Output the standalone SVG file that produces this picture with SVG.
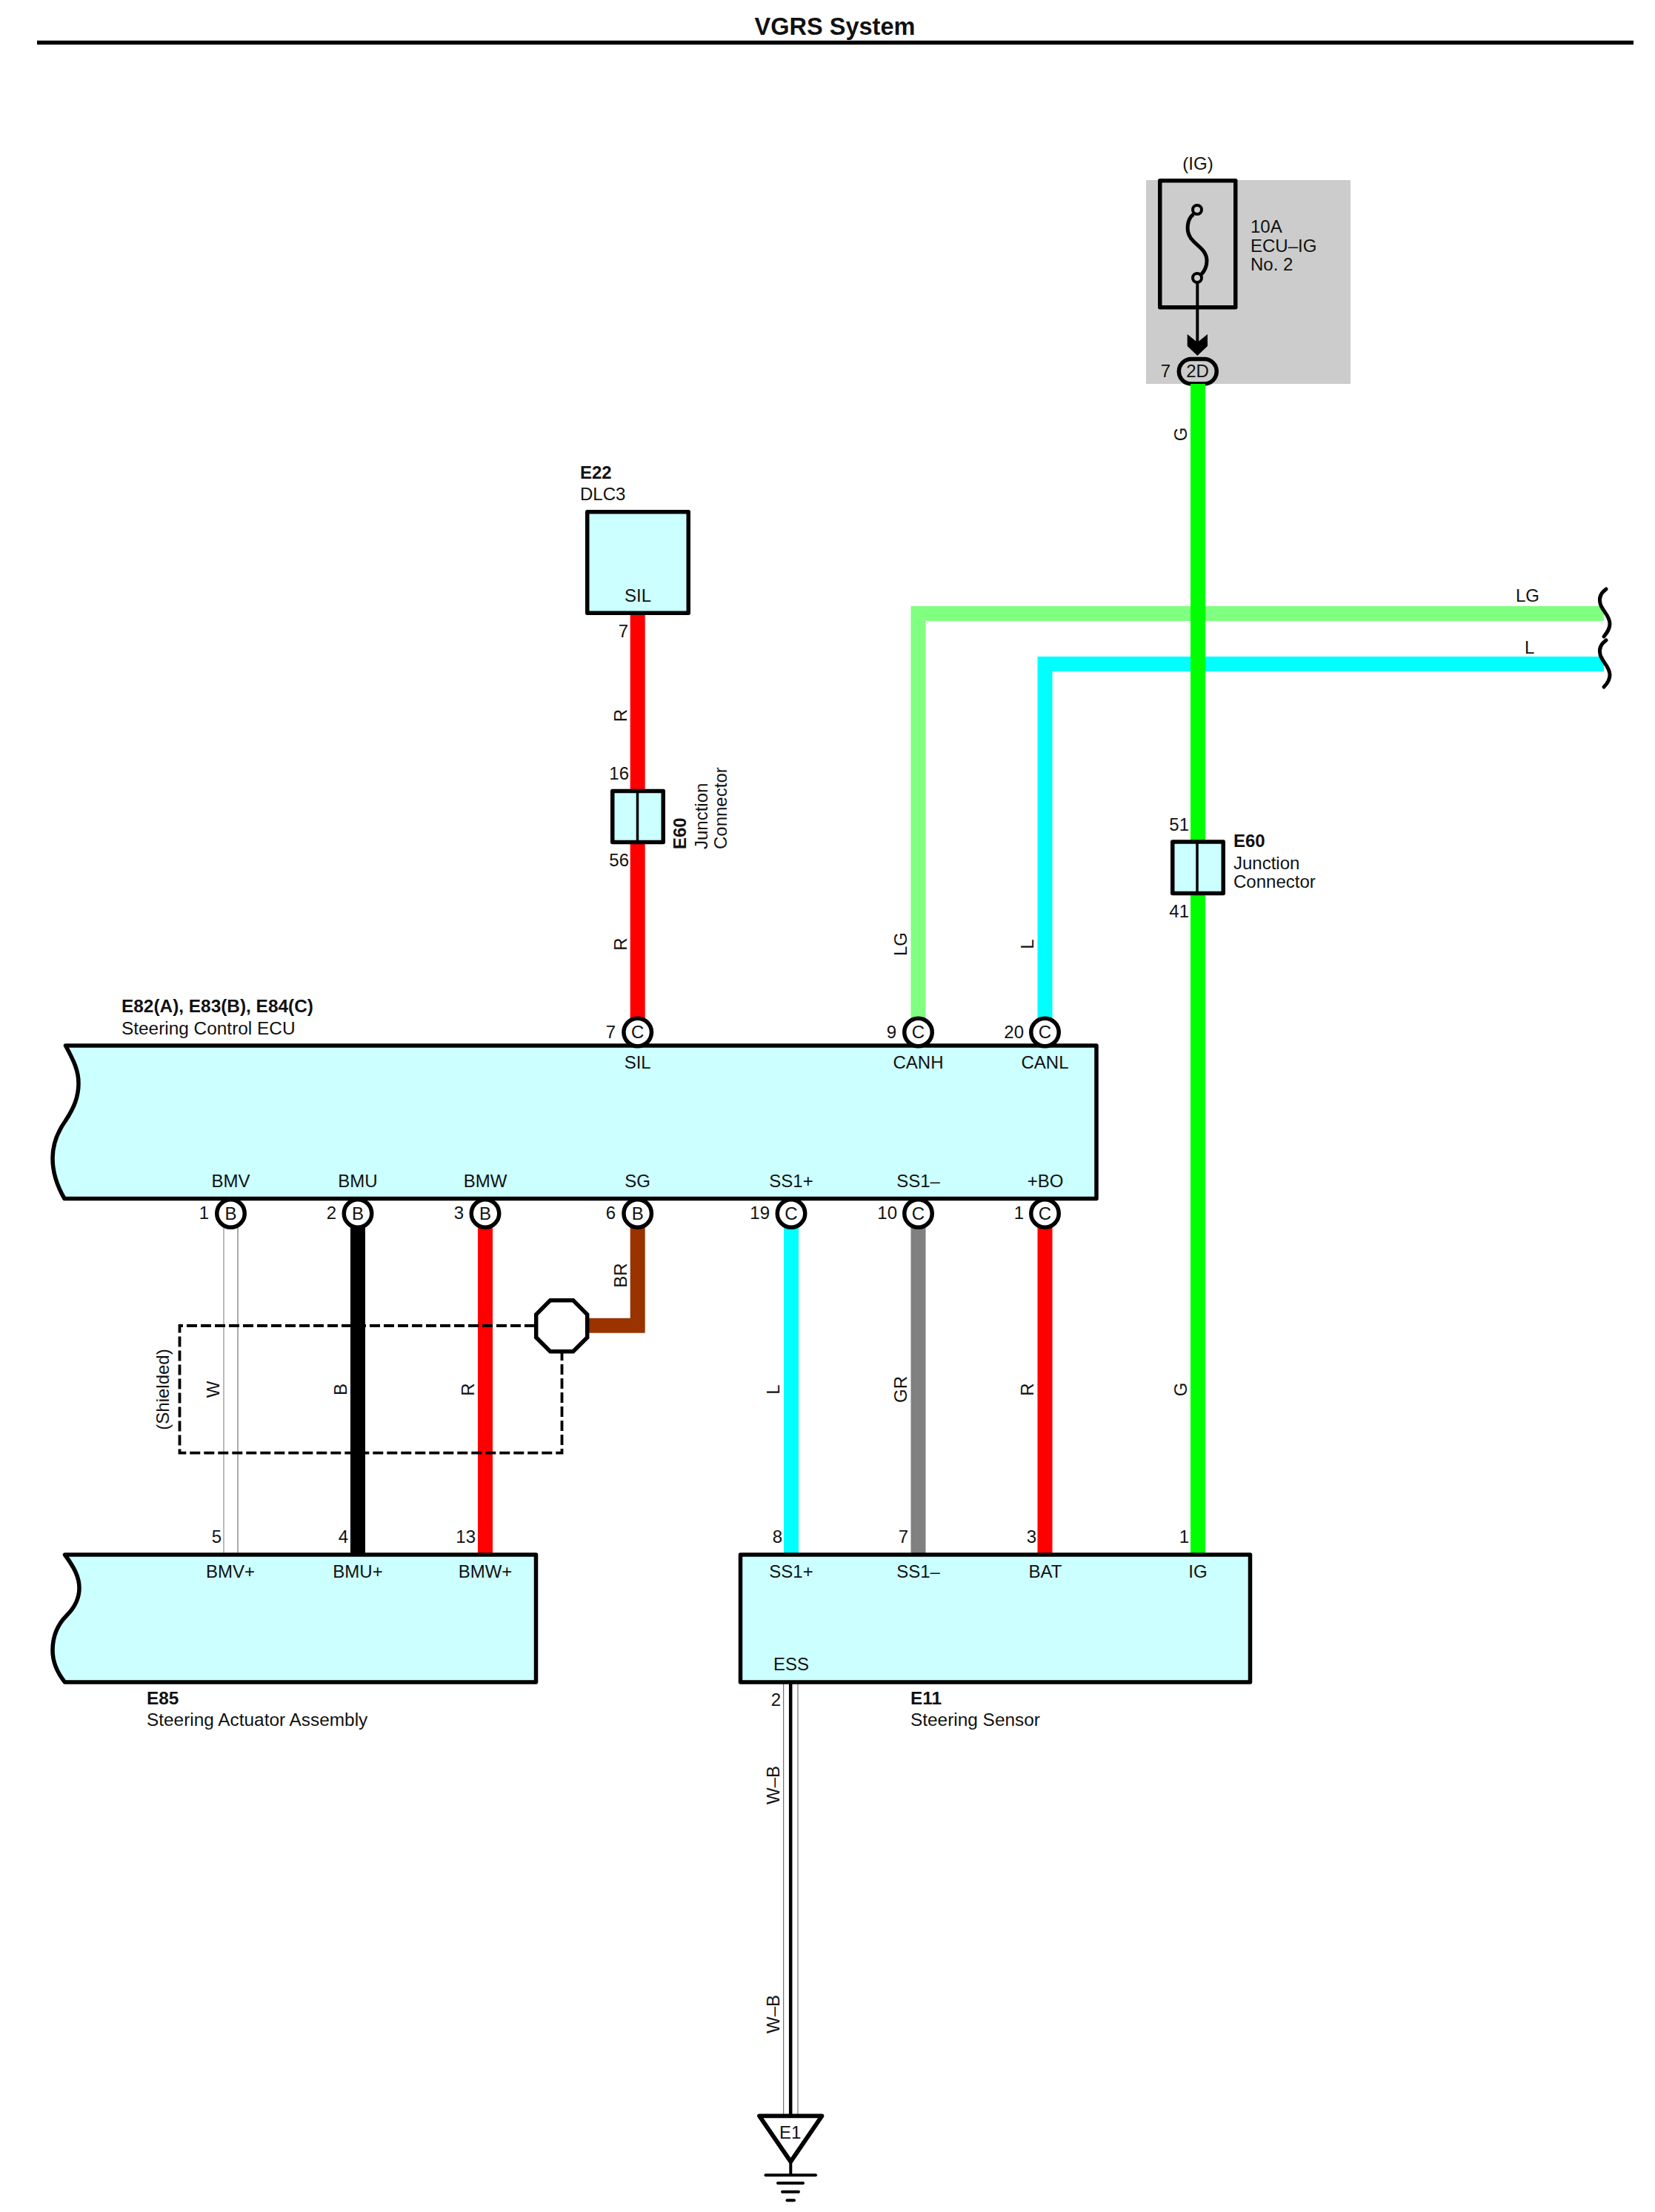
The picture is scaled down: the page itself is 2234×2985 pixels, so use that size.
<svg xmlns="http://www.w3.org/2000/svg" width="2234" height="2985" viewBox="0 0 2234 2985">
<style>
text{font-family:"Liberation Sans",Arial,sans-serif;font-size:24px;fill:#111}
.b{font-weight:bold}
.m{text-anchor:middle}
.e{text-anchor:end}
.n{font-size:24.4px}
.w{fill:none;stroke-width:20;stroke-linejoin:miter;stroke-linecap:butt}
.box{fill:#CCFFFF;stroke:#000;stroke-width:5.500;stroke-linejoin:round}
.pin{fill:#fff;stroke:#000;stroke-width:5.500}
.ln{fill:none;stroke:#000}
.g{stroke:#000;stroke-width:4;stroke-linecap:round}
</style>
<rect width="2234" height="2985" fill="#fff"/>
<g id="title">
<text x="1127" y="47" class="b m" style="font-size:32.500px">VGRS System</text>
<line x1="50" y1="57.500" x2="2205" y2="57.500" stroke="#000" stroke-width="5.500"/>
</g>
<g id="fuse-ig">
<rect x="1547" y="243" width="276" height="275" fill="#ccc"/>
<text x="1617" y="229" class="m">(IG)</text>
<rect x="1565.750" y="243.750" width="102" height="171" fill="none" stroke="#000" stroke-width="5.500" stroke-linejoin="round"/>
<path class="ln" stroke-width="5" d="M1611 289C1601 297 1602 312 1606 319C1611 330 1629 335 1629 352C1629 360 1626 366 1621 371"/>
<line x1="1616.300" y1="381" x2="1616.300" y2="470" stroke="#000" stroke-width="4"/>
<circle cx="1616" cy="283" r="6" fill="#ccc" stroke="#000" stroke-width="4"/>
<circle cx="1616" cy="375" r="6" fill="#ccc" stroke="#000" stroke-width="4"/>
<polygon points="1602.700,451 1616.300,462 1630,451 1630,467 1616.300,480 1602.700,467" fill="#000"/>
<text x="1688" y="314">10A</text>
<text x="1688" y="339.500">ECU–IG</text>
<text x="1688" y="365">No. 2</text>
<rect x="1591.300" y="484.500" width="51" height="33.500" rx="16.750" ry="16.750" fill="#ccc" stroke="#000" stroke-width="5.500"/>
<text x="1616.500" y="508.500" class="m">2D</text>
<text x="1580" y="508.500" class="e">7</text>
</g>
<g id="connectors">
<path class="w" stroke="#FF0000" d="M860.700 830V1375"/>
<path class="w" stroke="#80FF80" d="M1239.500 1375V828H2165"/>
<path class="w" stroke="#00FFFF" d="M1410.500 1375V896H2165"/>
<path class="w" stroke="#00FF00" d="M1617 518V2098"/>
<path class="w" stroke="#000000" d="M483 1650V2098"/>
<path class="w" stroke="#FF0000" d="M655 1650V2098"/>
<path class="w" stroke="#993300" d="M860.700 1650V1788.700H790"/>
<path class="w" stroke="#00FFFF" d="M1068 1650V2098"/>
<path class="w" stroke="#808080" d="M1239.500 1650V2098"/>
<path class="w" stroke="#FF0000" d="M1410.500 1650V2098"/>
<line x1="302" y1="1654" x2="302" y2="2098" stroke="#777" stroke-width="1"/>
<line x1="321" y1="1654" x2="321" y2="2098" stroke="#555" stroke-width="1"/>
<line x1="1057.700" y1="2270" x2="1057.700" y2="2855" stroke="#555" stroke-width="1"/>
<line x1="1077" y1="2270" x2="1077" y2="2855" stroke="#555" stroke-width="1"/>
<line x1="1067.200" y1="2270" x2="1067.200" y2="2855" stroke="#000" stroke-width="4.500"/>
<path class="ln" stroke-width="5" stroke-linecap="round" d="M2168 795C2161 800 2158 806 2160 814C2162 824 2173 830 2173 842C2173 849 2169 854 2165 859"/>
<path class="ln" stroke-width="5" stroke-linecap="round" d="M2168 864C2161 869 2158 875 2160 883C2162 893 2173 899 2173 911C2173 918 2169 923 2165 927"/>
<text x="2078" y="812" class="e">LG</text>
<text x="2058" y="882">L</text>
<g id="wire-labels">
<text class="m" transform="translate(846 965.500) rotate(-90)">R</text>
<text class="m" transform="translate(846 1274) rotate(-90)">R</text>
<text class="m" transform="translate(1224 1274) rotate(-90)">LG</text>
<text class="m" transform="translate(1395 1274) rotate(-90)">L</text>
<text class="m" transform="translate(1602 586) rotate(-90)">G</text>
<text class="m" transform="translate(846 1721) rotate(-90)">BR</text>
<text class="m" transform="translate(296 1875) rotate(-90)">W</text>
<text class="m" transform="translate(468 1875) rotate(-90)">B</text>
<text class="m" transform="translate(640 1875) rotate(-90)">R</text>
<text class="m" transform="translate(1052 1875) rotate(-90)">L</text>
<text class="m" transform="translate(1224 1875) rotate(-90)">GR</text>
<text class="m" transform="translate(1395 1875) rotate(-90)">R</text>
<text class="m" transform="translate(1602 1875) rotate(-90)">G</text>
<text class="m" transform="translate(1052 2409) rotate(-90)">W–B</text>
<text class="m" transform="translate(1052 2718) rotate(-90)">W–B</text>
</g>
</g>
<g id="shield">
<path fill="none" stroke="#000" stroke-width="3.800" stroke-dasharray="14 5" d="M722 1789H242.500V1960.700H758.500V1826"/>
<polygon points="742.700,1754.800 773.700,1754.800 792.700,1773.800 792.700,1804.800 773.700,1823.800 742.700,1823.800 723.700,1804.800 723.700,1773.800" fill="#fff" stroke="#000" stroke-width="5.500"/>
<text class="m" transform="translate(228 1875) rotate(-90)">(Shielded)</text>
</g>
<g id="E22">
<text x="783" y="646" class="b">E22</text>
<text x="783" y="675">DLC3</text>
<rect class="box" x="792.750" y="690.750" width="136.500" height="136.500"/>
<text x="861" y="812" class="m">SIL</text>
<text x="848" y="860" class="e">7</text>
</g>
<g id="E60-a">
<rect class="box" x="826.750" y="1067.500" width="68.500" height="69"/>
<line x1="860.500" y1="1067" x2="860.500" y2="1137" stroke="#000" stroke-width="3.500"/>
<text x="849" y="1052" class="e">16</text>
<text x="849" y="1169" class="e">56</text>
<text class="b" transform="translate(926 1146) rotate(-90)">E60</text>
<text transform="translate(955 1146) rotate(-90)">Junction</text>
<text transform="translate(981 1146) rotate(-90)">Connector</text>
</g>
<g id="E60-b">
<rect class="box" x="1582.750" y="1136" width="68.500" height="69.500"/>
<line x1="1616" y1="1136" x2="1616" y2="1206" stroke="#000" stroke-width="3.500"/>
<text x="1605" y="1121" class="e">51</text>
<text x="1605" y="1238" class="e">41</text>
<text x="1665" y="1143" class="b">E60</text>
<text x="1665" y="1173">Junction</text>
<text x="1665" y="1197.500">Connector</text>
</g>
<g id="ECU">
<text x="164" y="1366" class="b n">E82(A), E83(B), E84(C)</text>
<text x="164" y="1396" class="n">Steering Control ECU</text>
<path class="box" d="M88.500 1411H1480V1617.500H87C78 1602 71 1585 71 1563C71 1545 76 1530 88 1513C100 1495 106 1480 106 1462C106 1445 100 1432 88.500 1411Z"/>
<text x="860.700" y="1441.500" class="m">SIL</text>
<text x="1239.500" y="1441.500" class="m">CANH</text>
<text x="1410.500" y="1441.500" class="m">CANL</text>
<text x="311.500" y="1602" class="m">BMV</text>
<text x="483" y="1602" class="m">BMU</text>
<text x="655" y="1602" class="m">BMW</text>
<text x="860.700" y="1602" class="m">SG</text>
<text x="1068" y="1602" class="m">SS1+</text>
<text x="1239.500" y="1602" class="m">SS1–</text>
<text x="1411" y="1602" class="m">+BO</text>
<g id="ecu-pins">
<circle class="pin" cx="860.700" cy="1393" r="18.750"/><text x="860.700" y="1401" class="m">C</text><text x="831" y="1401" class="e">7</text>
<circle class="pin" cx="1239.500" cy="1393" r="18.750"/><text x="1239.500" y="1401" class="m">C</text><text x="1210" y="1401" class="e">9</text>
<circle class="pin" cx="1410.500" cy="1393" r="18.750"/><text x="1410.500" y="1401" class="m">C</text><text x="1382" y="1401" class="e">20</text>
<circle class="pin" cx="311.500" cy="1637.500" r="18.750"/><text x="311.500" y="1645.500" class="m">B</text><text x="282" y="1645" class="e">1</text>
<circle class="pin" cx="483" cy="1637.500" r="18.750"/><text x="483" y="1645.500" class="m">B</text><text x="454" y="1645" class="e">2</text>
<circle class="pin" cx="655" cy="1637.500" r="18.750"/><text x="655" y="1645.500" class="m">B</text><text x="626" y="1645" class="e">3</text>
<circle class="pin" cx="860.700" cy="1637.500" r="18.750"/><text x="860.700" y="1645.500" class="m">B</text><text x="831" y="1645" class="e">6</text>
<circle class="pin" cx="1068" cy="1637.500" r="18.750"/><text x="1068" y="1645.500" class="m">C</text><text x="1039" y="1645" class="e">19</text>
<circle class="pin" cx="1239.500" cy="1637.500" r="18.750"/><text x="1239.500" y="1645.500" class="m">C</text><text x="1211" y="1645" class="e">10</text>
<circle class="pin" cx="1410.500" cy="1637.500" r="18.750"/><text x="1410.500" y="1645.500" class="m">C</text><text x="1382" y="1645" class="e">1</text>
</g>
</g>
<g id="E85">
<path class="box" d="M87.500 2098H723.500V2270H87.500C78 2258 71 2243 71 2227C71 2208 78 2192 90 2180C100 2170 107 2158 107 2143C107 2128 100 2115 87.500 2098Z"/>
<text x="311" y="2129" class="m">BMV+</text>
<text x="483" y="2129" class="m">BMU+</text>
<text x="655" y="2129" class="m">BMW+</text>
<text x="299" y="2082" class="e">5</text>
<text x="470" y="2082" class="e">4</text>
<text x="642" y="2082" class="e">13</text>
<text x="198" y="2300" class="b n">E85</text>
<text x="198" y="2329" class="n">Steering Actuator Assembly</text>
</g>
<g id="E11">
<rect class="box" x="999.500" y="2098" width="688" height="172"/>
<text x="1068" y="2129" class="m">SS1+</text>
<text x="1239.500" y="2129" class="m">SS1–</text>
<text x="1411" y="2129" class="m">BAT</text>
<text x="1617" y="2129" class="m">IG</text>
<text x="1068" y="2254" class="m">ESS</text>
<text x="1056" y="2082" class="e">8</text>
<text x="1226" y="2082" class="e">7</text>
<text x="1399" y="2082" class="e">3</text>
<text x="1605" y="2082" class="e">1</text>
<text x="1054" y="2302" class="e">2</text>
<text x="1229" y="2300" class="b n">E11</text>
<text x="1229" y="2329" class="n">Steering Sensor</text>
</g>
<g id="E1">
<polygon points="1025,2855.300 1109.500,2855.300 1067.300,2917" fill="#fff" stroke="#000" stroke-width="5.800" stroke-linejoin="round"/>
<text x="1066.700" y="2886" class="m">E1</text>
<line x1="1067.300" y1="2917" x2="1067.300" y2="2935" stroke="#000" stroke-width="4"/>
<line class="g" x1="1033.500" y1="2935.300" x2="1101" y2="2935.300"/>
<line class="g" x1="1050" y1="2946" x2="1084" y2="2946"/>
<line class="g" x1="1056" y1="2957.700" x2="1078" y2="2957.700"/>
<line class="g" x1="1062.500" y1="2969.300" x2="1072" y2="2969.300"/>
</g>
</svg>
